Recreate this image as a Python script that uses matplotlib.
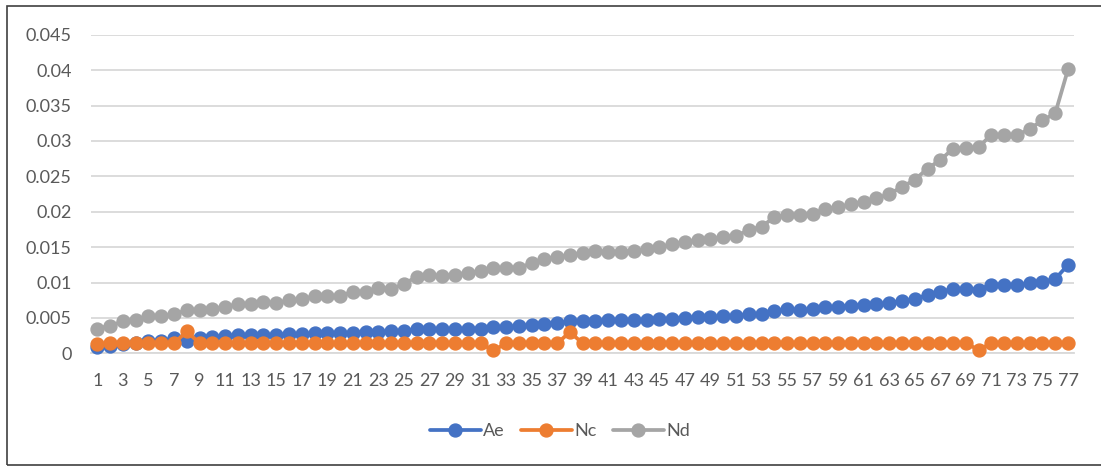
import matplotlib.pyplot as plt
from matplotlib.patches import Rectangle

# Series values, one per sample (1..77)
muestras = list(range(1, 78))

ae = [0.0009, 0.0010, 0.0013, 0.0015, 0.0017, 0.0018, 0.0021, 0.0017, 0.0022, 0.0023,
      0.0024, 0.0026, 0.0026, 0.0026, 0.0026, 0.0027, 0.0027, 0.0028, 0.0028, 0.0028,
      0.0029, 0.0030, 0.0030, 0.0031, 0.0032, 0.0034, 0.0034, 0.0034, 0.0034, 0.0035,
      0.0035, 0.0037, 0.0037, 0.0038, 0.0040, 0.0042, 0.0043, 0.0045, 0.0045, 0.0045,
      0.0047, 0.0047, 0.0047, 0.0047, 0.0048, 0.0049, 0.0050, 0.0051, 0.0051, 0.0052,
      0.0053, 0.0055, 0.0056, 0.0060, 0.0062, 0.0061, 0.0062, 0.0065, 0.0066, 0.0067,
      0.0068, 0.0069, 0.0071, 0.0074, 0.0076, 0.0083, 0.0087, 0.0091, 0.0091, 0.0090,
      0.0097, 0.0097, 0.0096, 0.0099, 0.0101, 0.0105, 0.0125]

nc = [0.0013, 0.0014, 0.0014, 0.0014, 0.0014, 0.0014, 0.0014, 0.0031, 0.0014, 0.0014,
      0.0014, 0.0014, 0.0014, 0.0014, 0.0014, 0.0014, 0.0014, 0.0014, 0.0014, 0.0014,
      0.0014, 0.0014, 0.0014, 0.0014, 0.0014, 0.0014, 0.0014, 0.0014, 0.0014, 0.0014,
      0.0014, 0.0004, 0.0014, 0.0014, 0.0014, 0.0014, 0.0014, 0.0030, 0.0014, 0.0014,
      0.0014, 0.0014, 0.0014, 0.0014, 0.0014, 0.0014, 0.0014, 0.0014, 0.0014, 0.0014,
      0.0014, 0.0014, 0.0014, 0.0014, 0.0014, 0.0014, 0.0014, 0.0014, 0.0014, 0.0014,
      0.0014, 0.0014, 0.0014, 0.0014, 0.0014, 0.0014, 0.0014, 0.0014, 0.0014, 0.0005,
      0.0014, 0.0014, 0.0014, 0.0014, 0.0014, 0.0014, 0.0014]

nd = [0.0035, 0.0039, 0.0045, 0.0047, 0.0052, 0.0052, 0.0055, 0.0061, 0.0061, 0.0063,
      0.0065, 0.0070, 0.0070, 0.0072, 0.0071, 0.0075, 0.0076, 0.0081, 0.0081, 0.0081,
      0.0087, 0.0087, 0.0092, 0.0091, 0.0098, 0.0108, 0.0110, 0.0109, 0.0111, 0.0114,
      0.0116, 0.0120, 0.0121, 0.0121, 0.0127, 0.0133, 0.0136, 0.0139, 0.0142, 0.0144,
      0.0143, 0.0143, 0.0145, 0.0147, 0.0150, 0.0154, 0.0157, 0.0160, 0.0161, 0.0164,
      0.0166, 0.0174, 0.0179, 0.0192, 0.0196, 0.0195, 0.0197, 0.0204, 0.0206, 0.0211,
      0.0214, 0.0219, 0.0225, 0.0235, 0.0245, 0.0261, 0.0273, 0.0289, 0.0290, 0.0291,
      0.0309, 0.0308, 0.0308, 0.0317, 0.0329, 0.0339, 0.0401]

series = [('Ae', ae, '#4472C4'), ('Nc', nc, '#ED7D31'), ('Nd', nd, '#A5A5A5')]
yticks = [0, 0.005, 0.01, 0.015, 0.02, 0.025, 0.03, 0.035, 0.04, 0.045]
ylabels = ['0', '0.005', '0.01', '0.015', '0.02', '0.025', '0.03', '0.035', '0.04', '0.045']

plt.rcParams['font.family'] = ['Lato', 'DejaVu Sans']
gris_texto = '#595959'

fig = plt.figure(figsize=(11.01, 4.68), dpi=100)
ax = fig.add_axes([91 / 1101, 1 - 353.3 / 468, (1074.4 - 91) / 1101, (353.3 - 34.7) / 468])

for nombre, valores, color in series:
    ax.plot(muestras, valores, color=color, linewidth=2.7, marker='o',
            markersize=9.3, label=nombre, solid_capstyle='round', clip_on=False)

ax.set_xlim(0.5, 77.5)
ax.set_ylim(0, 0.045)
ax.set_yticks(yticks)
ax.set_yticklabels(ylabels)
ax.set_xticks(muestras[::2])
ax.set_xticklabels([str(m) for m in muestras[::2]])
ax.tick_params(axis='both', length=0, labelsize=13, colors=gris_texto)
ax.tick_params(axis='y', pad=14)
ax.tick_params(axis='x', pad=14)
ax.grid(axis='y', color='#D9D9D9', linewidth=1.3)
ax.set_axisbelow(True)
for lado in ['top', 'right', 'left']:
    ax.spines[lado].set_visible(False)
ax.spines['bottom'].set_color('#D9D9D9')
ax.spines['bottom'].set_linewidth(1.3)
ax.spines['bottom'].set_zorder(0.5)

leg = fig.legend(loc='center', bbox_to_anchor=(560 / 1101, 1 - 431 / 468), ncol=3,
                 frameon=False, fontsize=13, handlelength=2.8, handletextpad=0.15,
                 columnspacing=0.9)
for texto in leg.get_texts():
    texto.set_color(gris_texto)

# marco del area del grafico
fig.patches.append(Rectangle((7 / 1101, 1 - 465 / 468), 1.1, (465 - 6) / 468,
                             transform=fig.transFigure, fill=False,
                             edgecolor='#404040', linewidth=1.2))

plt.savefig('out.png', dpi=100)
